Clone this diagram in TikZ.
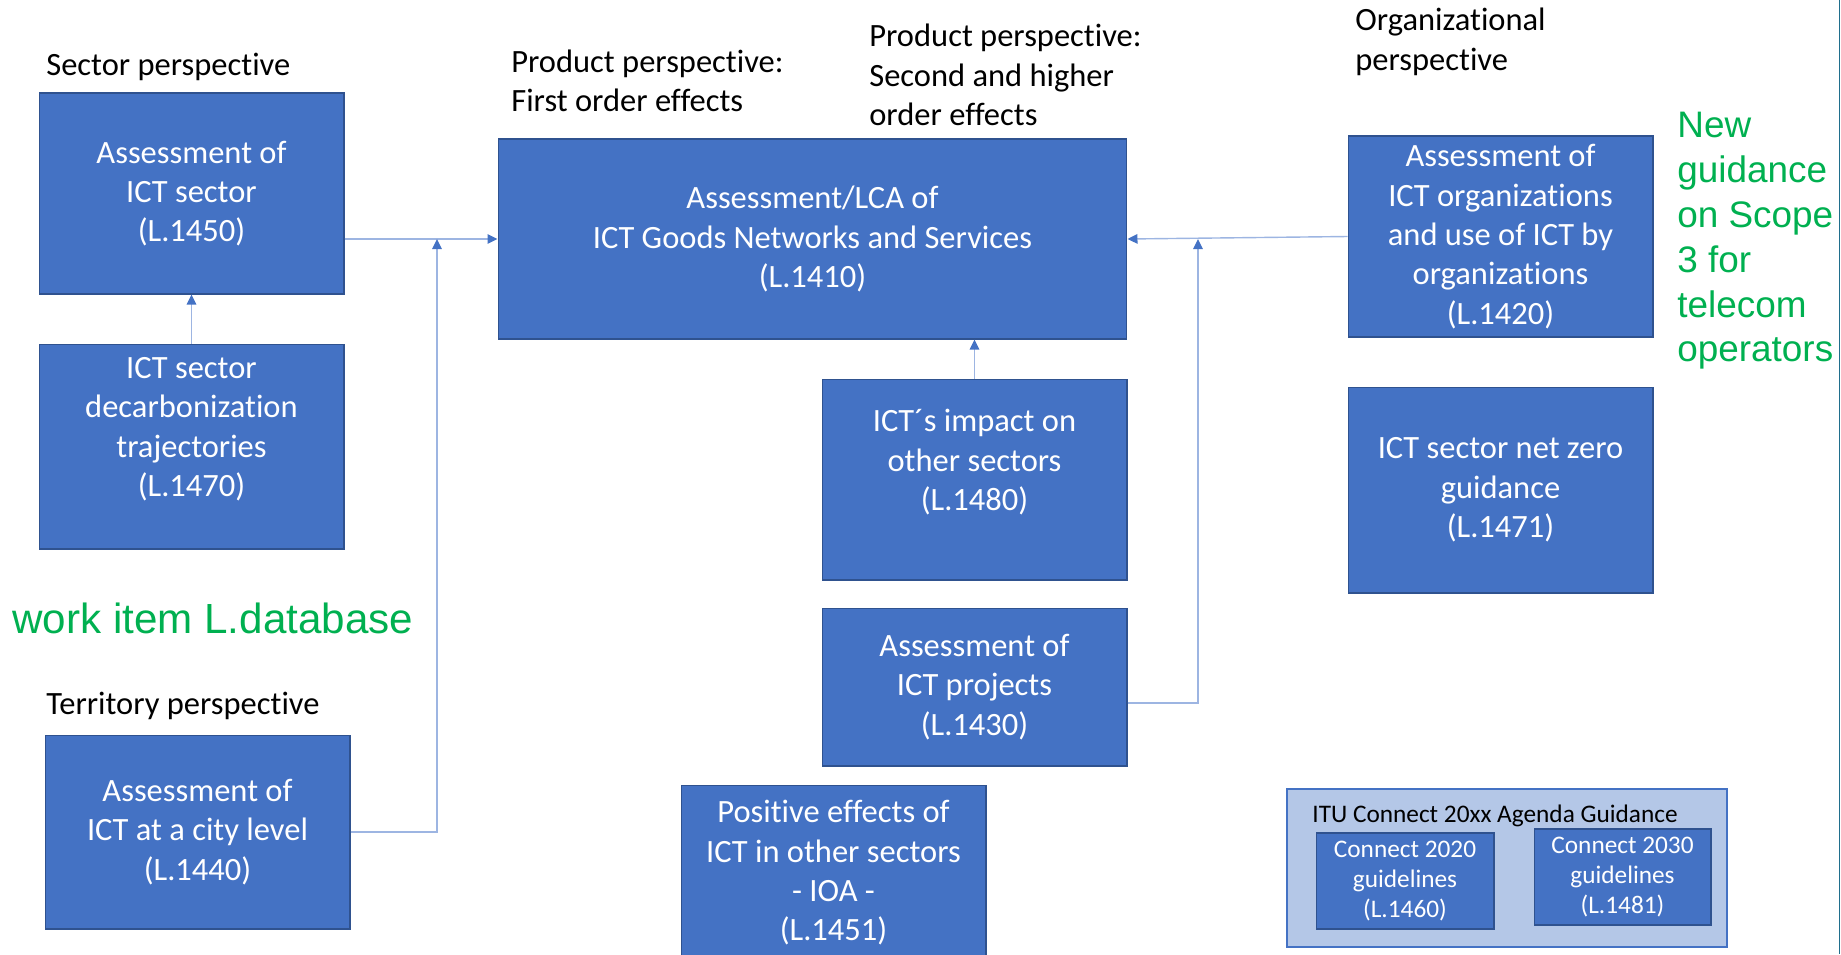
\documentclass[tikz,border=0pt]{standalone}
\usepackage{fontspec}
\setmainfont{Carlito}[Ligatures=NoCommon]
\newfontfamily\arialfont{Liberation Sans}
\usetikzlibrary{arrows.meta,calc}
\definecolor{boxblue}{HTML}{4472C4}
\definecolor{boxedge}{HTML}{2F528F}
\definecolor{linkblue}{HTML}{9DB5E2}
\definecolor{itufill}{HTML}{B4C7E7}
\definecolor{itemgreen}{HTML}{00B050}
\definecolor{slideedge}{HTML}{1F6E8C}
\begin{document}
\begin{tikzpicture}[x=0.02cm, y=-0.02cm,
  box/.style={draw=boxedge, line width=0.6pt, fill=boxblue, text=white, align=center,
    inner sep=0pt, font=\fontsize{18.5}{22.4}\selectfont},
  smallbox/.style={box, font=\fontsize{14.4}{17}\selectfont},
  lbl/.style={anchor=west, align=left, inner sep=0pt, font=\fontsize{18.5}{22.4}\selectfont},
  link/.style={draw=linkblue, line width=0.8pt, -{Triangle[color=boxblue, length=0.2cm, width=0.19cm]}},
  greennote/.style={anchor=west, align=left, inner sep=0pt, text=itemgreen}]
\useasboundingbox (0,0) rectangle (1841,954);
\clip (0,0) rectangle (1841,954);
\draw[slideedge, line width=0.6pt] (1839,0) -- (1839,954);
% perspectives
\node[lbl] (sectorlbl) at (46,67) {Sector perspective};
\node[lbl] (firstlbl) at (511,81) {Product perspective:\\First order effects};
\node[lbl] (secondlbl) at (869,75) {Product perspective:\\Second and higher\\order effects};
\node[lbl] (orglbl) at (1355,42) {Organizational\\perspective};
\node[lbl] (territorylbl) at (46,706) {Territory perspective};
\node[greennote, anchor=base west, font=\arialfont\fontsize{24}{29}\selectfont] (dbnote) at (12,633) {work item L.database};
\node[greennote, font=\arialfont\fontsize{21}{25.5}\selectfont] (scopenote) at (1677,241) {New\\guidance\\on Scope\\3 for\\telecom\\operators};
% boxes
\node[box, minimum width=6.1cm, minimum height=4.02cm] (s1450) at (191.5,193.5) {Assessment of\\ICT sector\\(L.1450)};
\node[box, minimum width=6.1cm, minimum height=4.1cm] (s1470) at (191.5,446.5) {ICT sector\\decarbonization\\trajectories\\(L.1470)\\\mbox{}};
\node[box, minimum width=6.1cm, minimum height=3.88cm] (s1440) at (197.5,832) {Assessment of\\ICT at a city level\\(L.1440)};
\node[box, minimum width=12.58cm, minimum height=4cm] (p1410) at (812.5,239) {Assessment/LCA of\\ICT Goods Networks and Services\\(L.1410)};
\node[box, minimum width=6.1cm, minimum height=4.02cm] (p1480) at (974.5,479.5) {ICT´s impact on\\other sectors\\(L.1480)\\\mbox{}};
\node[box, minimum width=6.1cm, minimum height=3.16cm] (p1430) at (974.5,687) {Assessment of\\ICT projects\\(L.1430)};
\node[box, minimum width=6.1cm, minimum height=3.52cm] (p1451) at (833.5,873) {Positive effects of\\ICT in other sectors\\- IOA -\\(L.1451)};
\node[box, minimum width=6.1cm, minimum height=4.02cm] (o1420) at (1500.5,236.5) {Assessment of\\ICT organizations\\and use of ICT by\\organizations\\(L.1420)};
\node[box, minimum width=6.1cm, minimum height=4.12cm] (o1471) at (1500.5,490) {ICT sector net zero\\guidance\\(L.1471)};
% ITU connect
\node[draw=boxblue, line width=0.9pt, fill=itufill, minimum width=8.8cm, minimum height=3.16cm] (itu) at (1507,868) {};
\node[inner sep=0pt, font=\fontsize{14.4}{17}\selectfont] (itulbl) at (1495,816) {ITU Connect 20xx Agenda Guidance};
\node[smallbox, minimum width=3.56cm, minimum height=1.92cm] (c2020) at (1405,881) {Connect 2020\\guidelines\\(L.1460)};
\node[smallbox, minimum width=3.54cm, minimum height=1.92cm] (c2030) at (1622.5,877) {Connect 2030\\guidelines\\(L.1481)};
% connectors
\coordinate (j1) at (437,239);
\coordinate (j2) at (1198,239);
\draw[link] (s1450.east |- p1410.west) -- (p1410.west);
\draw[link] (s1470.north) -- (s1450.south);
\draw[link] (s1440.east) -| (j1);
\draw[link] (p1480.north) -- (p1480.north |- p1410.south);
\draw[link] (o1420.west) -- (p1410.east);
\draw[link] ($(p1430.east)+(0,16)$) -| (j2);
\end{tikzpicture}
\end{document}
